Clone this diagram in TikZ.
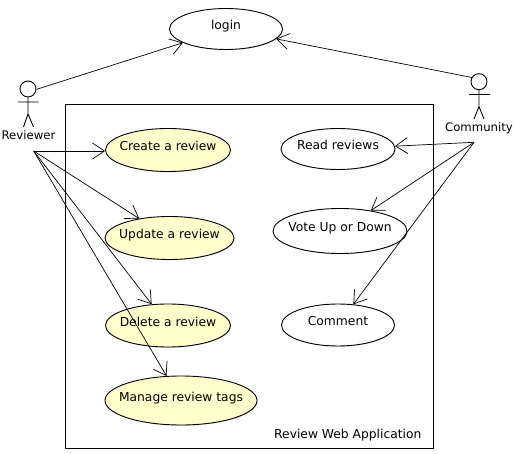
\documentclass[tikz,border=0pt]{standalone}
\usepackage{fontspec}
\setmainfont{DejaVu Sans}
\usetikzlibrary{shapes.geometric,arrows.meta,shadows}
\definecolor{usecasefill}{HTML}{FFFFCC}
\newcommand{\caselabel}[1]{\makebox[0pt]{\raisebox{-1pt}[0pt][0pt]{#1}}}
\tikzset{
  usecase/.style={ellipse,draw=black,line width=0.9pt,inner sep=0pt,
    minimum width=2*#1,font=\fontsize{12.3}{14}\selectfont,
    general shadow={shadow xshift=0.8pt,shadow yshift=-0.8pt,fill=black,opacity=.12}},
  own/.style={usecase=#1,fill=usecasefill},
  other/.style={usecase=#1,fill=white},
  actorhead/.style={circle,draw=black,line width=0.9pt,inner sep=0pt,minimum size=16pt},
  actorline/.style={draw=black,line width=0.9pt},
  txt/.style={inner sep=0pt,font=\fontsize{12.3}{14}\selectfont,anchor=base},
  actortxt/.style={inner sep=0pt,font=\fontsize{11.7}{14}\selectfont,anchor=base},
  assoc/.style={draw=black,line width=0.7pt,-{Straight Barb[length=12pt,width=16pt,line width=0.7pt]}},
  sysbox/.style={draw=black,line width=1pt,fill=white,inner sep=0pt,minimum width=367.7pt,minimum height=344pt}
}
\begin{document}
\begin{tikzpicture}[x=1pt,y=-1pt]
\useasboundingbox[fill=white] (0,0) rectangle (517,454);
\node[sysbox] (system) at (249.15,276.3) {};
\node[txt] (systemlabel) at (347.8,438) {Review Web Application};

\node[other=56.5pt,minimum height=41pt] (login) at (226,29) {\caselabel{login}};
\node[own=62.5pt,minimum height=43pt] (create) at (168,150) {\caselabel{Create a review}};
\node[own=64.5pt,minimum height=43pt] (update) at (169.5,238) {\caselabel{Update a review}};
\node[own=62.5pt,minimum height=43pt] (delete) at (168,325.5) {\caselabel{Delete a review}};
\node[own=76pt,minimum height=49pt] (manage) at (181,400.5) {\caselabel{Manage review tags}};
\node[other=57pt,minimum height=41pt] (read) at (338,149) {\caselabel{Read reviews}};
\node[other=67pt,minimum height=45pt] (vote) at (340,231) {\caselabel{Vote Up or Down}};
\node[other=56.5pt,minimum height=42pt] (comment) at (338,325) {\caselabel{Comment}};

% actors
\node[actorhead] (revhead) at (28,89) {};
\draw[actorline] (revhead.south) -- (28,114) (18,102) -- (38.5,102) (23.5,127) -- (28,114) -- (33.5,127);
\node[actortxt] (revlabel) at (28.5,139.3) {Reviewer};
\node[actorhead] (comhead) at (479,81.7) {};
\draw[actorline] (comhead.south) -- (479,106.5) (469,94.5) -- (490,94.5) (474,119) -- (479,106.5) -- (484,119);
\node[actortxt] (comlabel) at (479,132) {Community};

\coordinate (revout) at (33.7,151);
\coordinate (revtop) at (36.7,89.3);
\coordinate (comout) at (474,142.3);
\coordinate (comtop) at (472,77.5);

\draw[assoc] (revtop) -- (login);
\draw[assoc] (comtop) -- (login);
\draw[assoc] (revout) -- (create.west |- revout);
\draw[assoc] (revout) -- (update);
\draw[assoc] (revout) -- (delete);
\draw[assoc] (revout) -- (manage);
\draw[assoc] (comout) -- (read);
\draw[assoc] (comout) -- (vote);
\draw[assoc] (comout) -- (comment);
\end{tikzpicture}
\end{document}
